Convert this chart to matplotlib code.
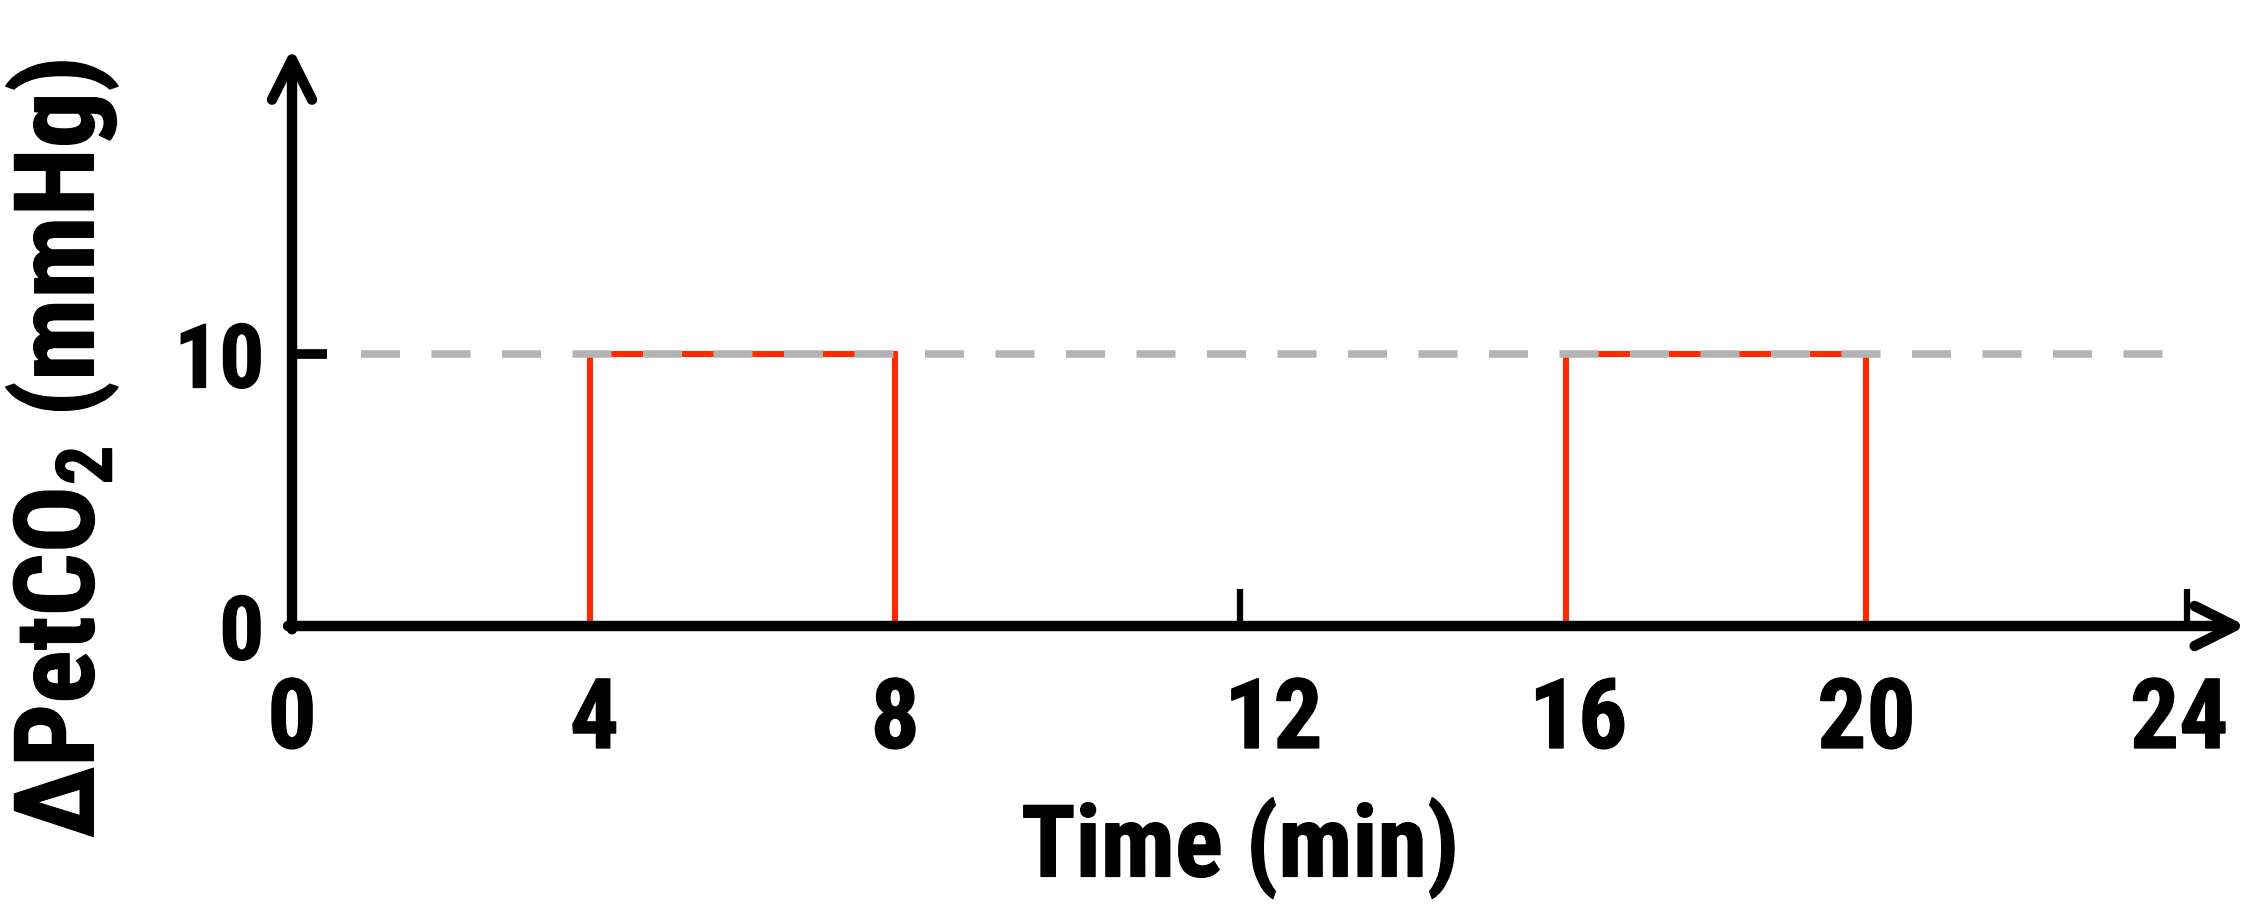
import matplotlib
matplotlib.use("Agg")
import matplotlib.pyplot as plt
import matplotlib.patheffects as pe
from matplotlib.patches import FancyArrowPatch

plt.rcParams['font.family'] = ['Roboto Condensed', 'DejaVu Sans']
plt.rcParams['font.weight'] = 'bold'
plt.rcParams['mathtext.fontset'] = 'custom'
plt.rcParams['mathtext.rm'] = 'Roboto Condensed:bold'
plt.rcParams['mathtext.bf'] = 'Roboto Condensed:bold'

# pulses of +10 mmHg (start, end in min)
pulse_start = [3.77, 16.13]
pulse_end = [7.64, 19.94]
pulse_level = 10
target_level = 10

# tick labels and where they sit on the time axis
xtick_labels = ["0", "4", "8", "12", "16", "20", "24"]
xtick_pos = [0, 3.83, 7.64, 12.43, 16.29, 19.94, 23.9]
xtick_marks = [12, 24]
ytick_vals = [0, 10]
ytick_labels = ["0", "10"]

W, H = 2256, 912
fig = plt.figure(figsize=(W / 100, H / 100), dpi=100)

unit_x = 78.96   # px per min
unit_y = 27.2    # px per mmHg
x0_px, y0_px = 292, 285
xmax, ymax = 24.8, 21.3
ax = fig.add_axes([x0_px / W, y0_px / H, xmax * unit_x / W, ymax * unit_y / H])
ax.set_xlim(0, xmax)
ax.set_ylim(0, ymax)
for s in ax.spines.values():
    s.set_visible(False)

red = '#ff2a00'
for a, b in zip(pulse_start, pulse_end):
    ax.plot([a, a, b, b, a], [0, pulse_level, pulse_level, 0, 0],
            color=red, lw=4.4, zorder=2, solid_joinstyle='miter')

# dashed target line
ax.plot([0.87, 24], [target_level, target_level], color='#b3b3b3', lw=5.4,
        dashes=(5.2, 4.2), zorder=3, dash_capstyle='butt')

# axes with open arrow heads
style = "->,head_length=0.4,head_width=0.2"
for start, end in [((0, -0.12), (0, ymax - 0.05)), ((-0.05, 0), (xmax - 0.05, 0))]:
    ax.add_patch(FancyArrowPatch(start, end, arrowstyle=style,
                                 mutation_scale=72, lw=7.5, color='black', zorder=4,
                                 shrinkA=0, shrinkB=0, clip_on=False,
                                 capstyle='round', joinstyle='round'))

bold = [pe.withStroke(linewidth=0.9, foreground='black')]

ax.set_xticks(xtick_pos)
ax.set_xticklabels(xtick_labels, fontsize=70, fontweight='bold')
ax.set_xticks(xtick_marks, minor=True)
ax.tick_params(axis='x', which='major', length=0, pad=36)
ax.tick_params(axis='x', which='minor', direction='in', length=27, width=4.5,
               color='black')

ax.set_yticks(ytick_vals)
ax.set_yticklabels(ytick_labels, fontsize=64, fontweight='bold')
ax.tick_params(axis='y', which='major', direction='in', length=25, width=7,
               pad=20, color='black')
ax.yaxis.get_major_ticks()[0].tick1line.set_visible(False)
for t in ax.get_xticklabels() + ax.get_yticklabels():
    t.set_path_effects(bold)

fig.text(1240 / W, 1 - 849 / H, "Time (min)", fontsize=72, fontweight='bold',
         ha='center', va='center', path_effects=bold)
fig.text(62 / W, 1 - 450 / H, r"ΔPetCO$_{\rm 2}$ (mmHg)", fontsize=80,
         fontweight='bold', rotation=90, ha='center', va='center',
         path_effects=bold)

fig.savefig("out.png", dpi=100)
